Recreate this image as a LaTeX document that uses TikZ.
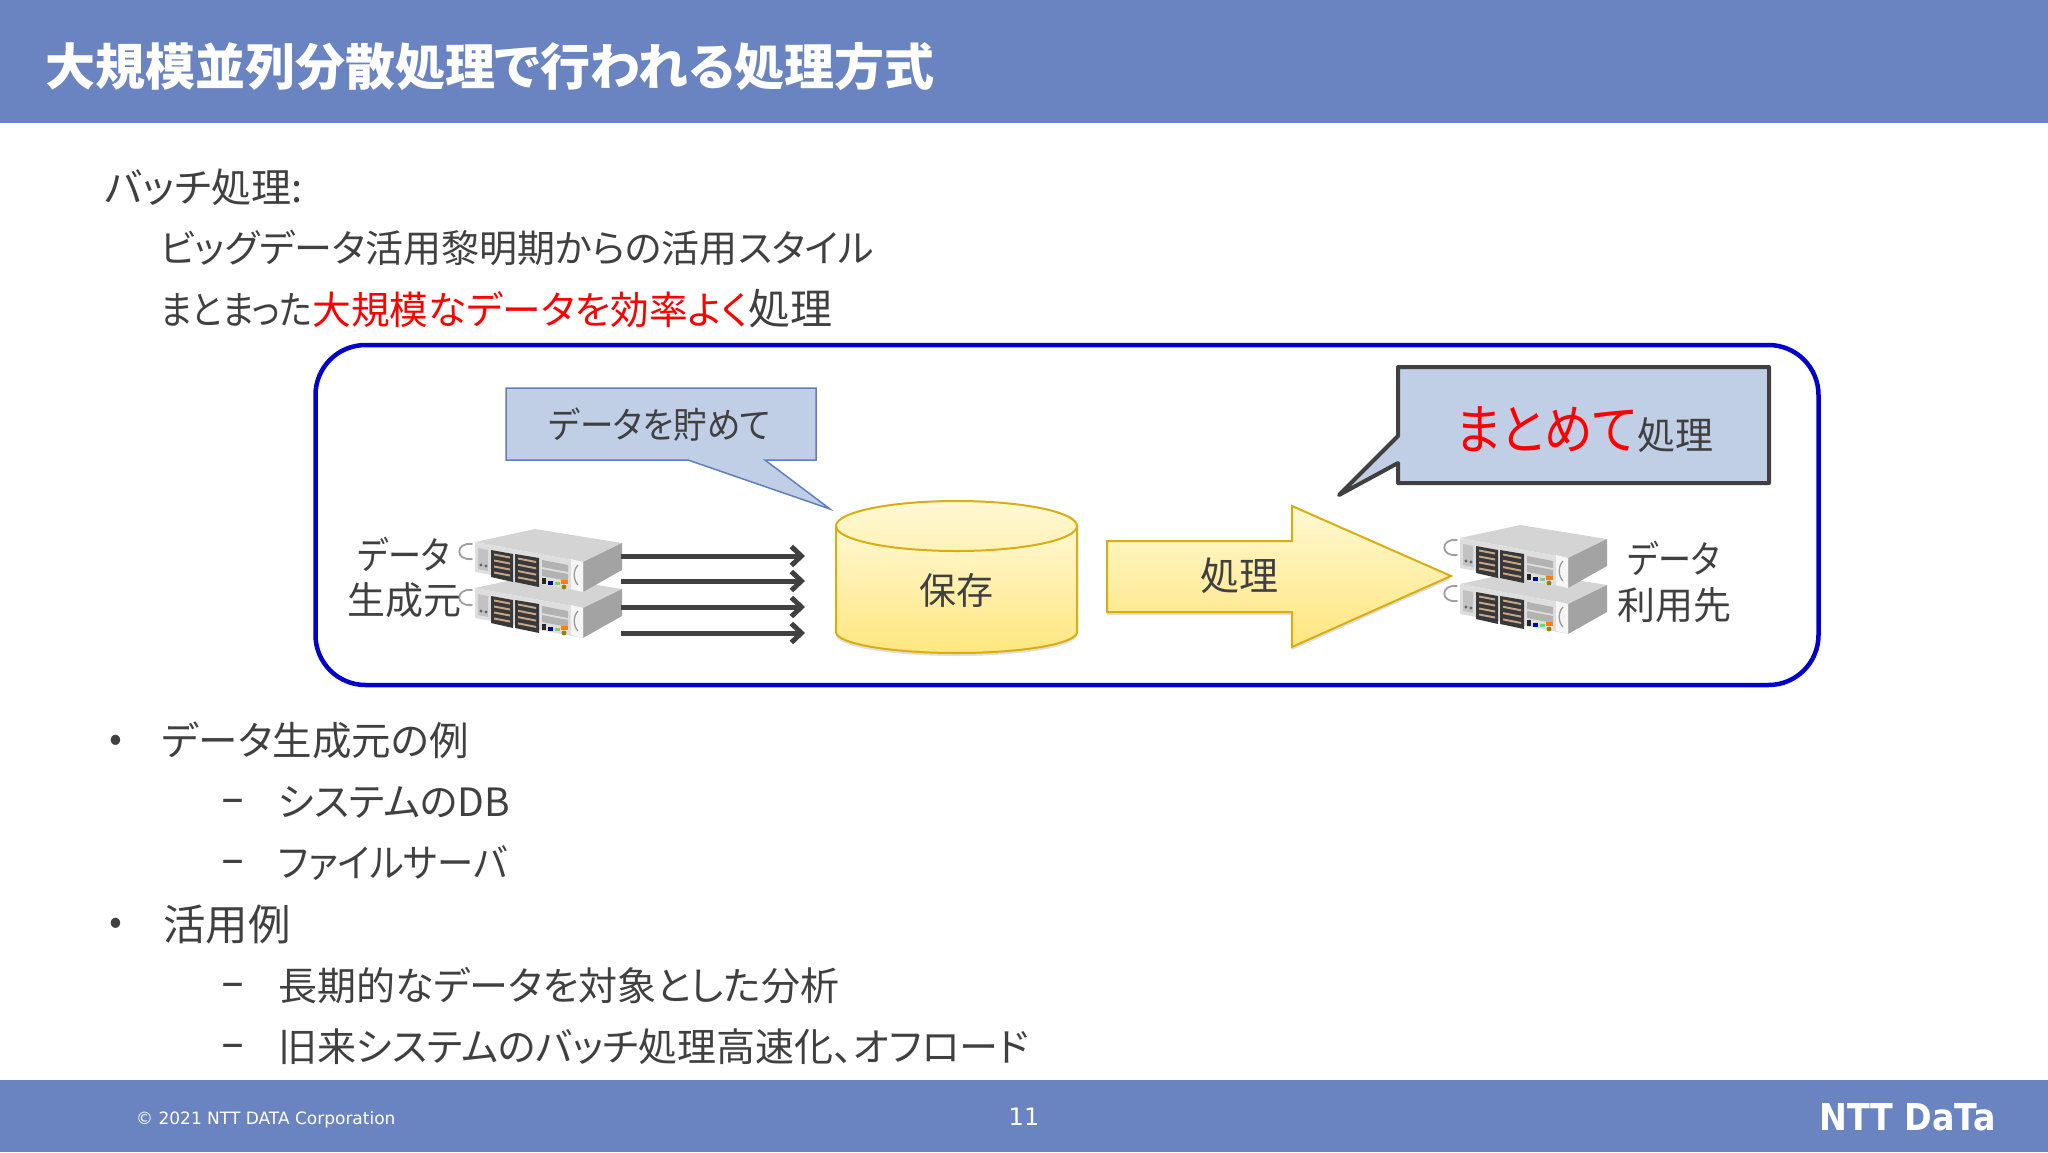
\documentclass[tikz,border=0pt]{standalone}
\usepackage{graphicx}
\usepackage{fontspec}
\setmainfont[RawFeature={+palt}]{Noto Sans CJK JP}
\newfontfamily\latinfont{DejaVu Sans}
\usetikzlibrary{arrows.meta}
\usetikzlibrary{shadows}
\usetikzlibrary{positioning}
\definecolor{barblue}{HTML}{6A84C1}
\definecolor{inktext}{HTML}{404040}
\definecolor{calloutfill}{HTML}{C0CEE6}
\definecolor{calloutline}{HTML}{5F80BE}
\definecolor{framecol}{HTML}{0000CC}
\definecolor{goldline}{HTML}{D9AE10}
\definecolor{paleyellow}{HTML}{FFF8D2}
\definecolor{deepyellow}{HTML}{FFE67F}
\newcommand{\sz}[2]{{\fontsize{#1}{44}\selectfont #2}}
\newcommand{\tight}[2]{\scalebox{#1}[1]{#2}}
\tikzset{
	server/.pic={
		\draw[gray!75, line width=1.8pt, line cap=round] (-3,2) .. controls (-20,0) and (-20,19) .. (-3,17);
		\fill[black!17] (0,0) -- (60,-13) -- (147,1) -- (108,20) -- cycle;
		\fill[black!36] (108,20) -- (147,1) -- (147,28) -- (108,50) -- cycle;
		\fill[black!13] (0,0) -- (108,20) -- (108,50) -- (0,30) -- cycle;
		\fill[black!24] (3,6) -- (13,8) -- (13,29) -- (3,27) -- cycle;
		\fill[black!60] (6,23) circle (1.6pt) (11,24) circle (1.6pt);
		\fill[black!78] (16,8) -- (38,12) -- (38,40) -- (16,35) -- cycle;
		\fill[black!78] (40,12) -- (64,16) -- (64,45) -- (40,40) -- cycle;
		\foreach \n in {0,...,3} {
			\fill[orange!35!gray!70] (19,{11.5+6*\n}) -- (35,{14.5+6*\n}) -- (35,{16.5+6*\n}) -- (19,{13.5+6*\n}) -- cycle;
			\fill[orange!35!gray!70] (43,{15.5+6.3*\n}) -- (61,{19+6.3*\n}) -- (61,{21+6.3*\n}) -- (43,{17.5+6.3*\n}) -- cycle;
		}
		\fill[black!30] (67,18) -- (93,23) -- (93,30) -- (67,25) -- cycle;
		\fill[black!30] (67,27) -- (93,32) -- (93,39) -- (67,34) -- cycle;
		\fill[black!85] (67,36) rectangle (71,42);
		\fill[blue!65!black] (73,39) rectangle (78,43);
		\fill[green!50!gray!70] (80,40) rectangle (85,43);
		\fill[orange] (86,38) rectangle (93,42);
		\fill[olive] (89,45) circle (2.4pt);
		\fill[black!4] (96,17) -- (108,20) -- (108,50) -- (96,47) -- cycle;
		\draw[gray!80, line width=1.3pt] (103,23) .. controls (98,28) and (98,38) .. (103,43);
	},
	flow/.style={-{Straight Barb[length=10pt,width=19pt,line width=5pt]}, line width=5pt, inktext,
		drop shadow={opacity=0.2, shadow xshift=0pt, shadow yshift=-2.5pt}},
	body/.style={anchor=west, text=inktext, inner sep=0pt, font=\fontsize{#1}{44}\selectfont},
	body/.default=38,
	tagtext/.style={text=inktext, inner sep=0pt, font=\fontsize{#1}{44}\selectfont},
	tagtext/.default=37,
	endash/.style={anchor=west, text=inktext, inner sep=0pt, font=\latinfont\fontsize{46}{50}\selectfont}
}
\begin{document}
\begin{tikzpicture}[
		x=1pt, y=-1pt,
		banner/.style={fill=barblue, draw=none, minimum width=2048pt, anchor=north west, inner sep=0pt},
		panel/.style={draw=framecol, line width=4.5pt, rounded corners=50pt, minimum width=1503pt, minimum height=340pt, inner sep=0pt},
		soft/.style={top color=paleyellow, bottom color=deepyellow, draw=goldline, line width=2pt,
			drop shadow={opacity=0.25, shadow xshift=0pt, shadow yshift=-3pt}}
	]
	\useasboundingbox (0,0) rectangle (2048,1152);
	\node[banner, minimum height=123pt] (header) at (0,0) {};
	\node[banner, minimum height=72pt] (footer) at (0,1080) {};
	\node[anchor=west, inner sep=0pt, text=white, font=\fontsize{50}{56}\selectfont\bfseries] (title) at (45,67) {大規模並列分散処理で行われる処理方式};

	\node[body=40] (batch) at (105,187) {バッチ処理:};
	\node[body] (dawn) at (160,248) {ビッグデータ活用黎明期からの活用スタイル};
	\node[body] (bulk) at (160,309) {\tight{.88}{\sz{39}{まとまった}}\textcolor{red}{\sz{38.7}{大規模なデータを効率よく}}\sz{42}{処理}};

	\node[panel] (frame) at (1067,515) {};

	\fill[calloutfill, draw=calloutline, line width=1.5pt] (506,388) -- (816,388) -- (816,460) -- (765,460) -- (830,509) -- (688,460) -- (506,460) -- cycle;
	\node[tagtext=36] (keep) at (660,425) {\tight{.93}{データを貯めて}};

	\fill[calloutfill, draw=inktext, line width=4pt, line join=round] (1398,367) -- (1769,367) -- (1769,483) -- (1398,483) -- (1398,463) -- (1339,495) -- (1398,436) -- cycle;
	\node[anchor=base west, inner sep=0pt, text=red, font=\fontsize{54}{60}\selectfont] (batched) at (1456,449) {\tight{.9}{まとめて}};
	\node[tagtext=38, right=0pt of batched.base east, anchor=base west] (proc) {処理};

	\path[soft] (836,526) -- (836,632) arc[start angle=180, end angle=360, x radius=120.5pt, y radius=21pt] -- (1077,526) -- cycle;
	\path[top color=paleyellow, bottom color=paleyellow!70!deepyellow, draw=goldline, line width=2pt] (956.5,526) ellipse [x radius=120.5pt, y radius=25pt];
	\node[tagtext] (store) at (956,590) {保存};

	\path[soft] (1107,541) -- (1292,541) -- (1292,506) -- (1451,576) -- (1292,647) -- (1292,612) -- (1107,612) -- cycle;
	\node[tagtext=39] (run) at (1239,576) {処理};

	\pic at (475,588) {server};
	\pic at (475,542) {server};
	\pic at (1460,584) {server};
	\pic at (1460,538) {server};

	\foreach \i/\ypos in {1/556,2/581,3/607,4/633} {
		\coordinate (out\i) at (621,\ypos);
		\coordinate (in\i) at (805,\ypos);
		\draw[flow] (out\i) -- (in\i);
	}

	\node[tagtext=38] (srca) at (404,554) {\tight{.87}{データ}};
	\node[tagtext=38] (srcb) at (404,600) {生成元};
	\node[tagtext=38] (usea) at (1674,558) {\tight{.87}{データ}};
	\node[tagtext=38] (useb) at (1674,605) {利用先};

	\node[body] (dota) at (109,743) {•};
	\node[body=39.5] (ex) at (162,740) {データ生成元の例};
	\node[endash] (dasha) at (221,806) {–};
	\node[body=39] (db) at (278,802) {システムのDB};
	\node[endash] (dashb) at (221,867) {–};
	\node[body=39] (fs) at (278,863) {\tight{.93}{ファイルサーバ}};
	\node[body] (dotb) at (109,926) {•};
	\node[body=42.5] (use) at (163,925) {活用例};
	\node[endash] (dashc) at (221,990) {–};
	\node[body=39] (long) at (278,986) {長期的なデータを対象とした分析};
	\node[endash] (dashd) at (221,1051) {–};
	\node[body=39] (old) at (278,1047) {旧来システムのバッチ処理高速化、オフロード};

	\node[anchor=west, inner sep=0pt, text=white, font=\latinfont\fontsize{17}{22}\selectfont] (copy) at (136,1120) {© 2021 NTT DATA Corporation};
	\node[inner sep=0pt, text=white, font=\latinfont\fontsize{24}{28}\selectfont] (page) at (1024,1117) {11};
	\node[anchor=east, inner sep=0pt, text=white, font=\latinfont\fontsize{37}{40}\selectfont\bfseries] (logo) at (1996,1117) {\tight{.9}{NTT DaTa}};
\end{tikzpicture}
\end{document}
